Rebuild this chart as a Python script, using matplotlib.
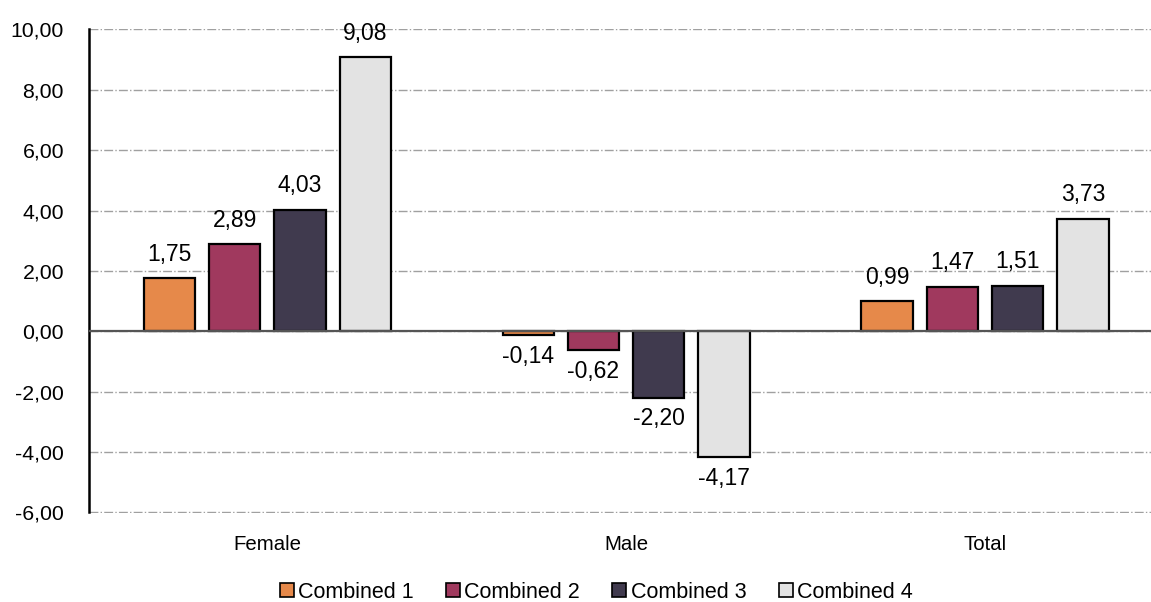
import numpy as np
import matplotlib
matplotlib.use("Agg")
import matplotlib.pyplot as plt
from matplotlib.patches import Patch

# Change in score per group and combination
groups = ["Female", "Male", "Total"]
series_names = ["Combined 1", "Combined 2", "Combined 3", "Combined 4"]
combined_1 = [1.75, -0.14, 0.99]
combined_2 = [2.89, -0.62, 1.47]
combined_3 = [4.03, -2.20, 1.51]
combined_4 = [9.08, -4.17, 3.73]
colors = ["#E6894A", "#A0395E", "#403A4E", "#E3E3E3"]

series = [combined_1, combined_2, combined_3, combined_4]

plt.rcParams["font.family"] = ["Liberation Sans", "DejaVu Sans"]

fig = plt.figure(figsize=(11.51, 6.02), dpi=100)
ax = fig.add_axes([0.0773, 0.148, 0.925, 0.804])

x = np.arange(len(groups))
pitch = 0.182
width = 0.143

for i, (vals, name, col) in enumerate(zip(series, series_names, colors)):
    offs = (i - 1.5) * pitch
    bars = ax.bar(x + offs, vals, width, color=col, edgecolor="black",
                  linewidth=1.6, label=name, zorder=3)
    for rect, v in zip(bars, vals):
        label = f"{v:.2f}".replace(".", ",")
        cx = rect.get_x() + rect.get_width() / 2
        if v >= 0:
            ax.annotate(label, (cx, v), xytext=(0, 9), textcoords="offset points",
                        ha="center", va="bottom", fontsize=16.5)
        else:
            ax.annotate(label, (cx, v), xytext=(0, -7), textcoords="offset points",
                        ha="center", va="top", fontsize=16.5)

ax.set_ylim(-6.02, 10.02)
ax.set_xlim(-0.497, 2.47)
ax.set_yticks(np.arange(-6, 11, 2))
ax.set_yticklabels([f"{t:.2f}".replace(".", ",") for t in np.arange(-6, 11, 2)],
                   fontsize=15.3)
ax.set_xticks(x)
ax.set_xticklabels(groups, fontsize=14.7)
ax.tick_params(axis="both", length=0)
ax.tick_params(axis="x", pad=16)
ax.tick_params(axis="y", pad=18)

ax.yaxis.grid(True, color="#A0A0A0", linestyle="-.", linewidth=1.0, zorder=0)
ax.axhline(0, color="#555555", linewidth=1.6, zorder=4)

for s in ["top", "right", "bottom"]:
    ax.spines[s].set_visible(False)
ax.spines["left"].set_linewidth(1.8)
ax.spines["left"].set_color("black")
ax.spines["left"].set_bounds(-6, 10)

handles = [Patch(facecolor=c, edgecolor="black", linewidth=1.2, label=n)
           for c, n in zip(colors, series_names)]
fig.legend(handles=handles, loc="center", bbox_to_anchor=(0.518, 0.016), ncol=4,
           frameon=False, handlelength=0.65, handleheight=0.65,
           handletextpad=0.2, columnspacing=1.5, borderpad=0,
           prop={"size": 15.5})

fig.savefig("out.png", dpi=100)
